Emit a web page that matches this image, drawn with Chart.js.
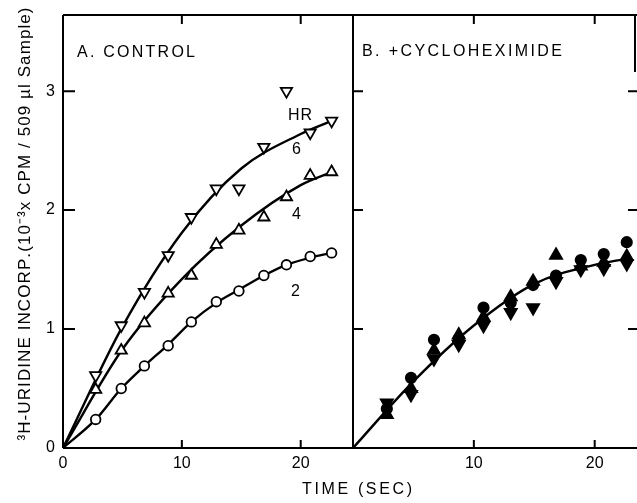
<!DOCTYPE html>
<html>
<head>
<meta charset="utf-8">
<script src="https://cdn.jsdelivr.net/npm/chart.js@4.4.0/dist/chart.umd.min.js"></script>
<style>
body { margin: 0; background: #fff; }
#wrap { position: relative; width: 637px; height: 503px; }
canvas { position: absolute; left: 0; top: 0; }
</style>
</head>
<body>
<div id="wrap">
<canvas id="chartA" width="637" height="503"></canvas>
<canvas id="chartB" width="637" height="503"></canvas>
</div>
<script>
// ---- data ----
// panel A (control): sample times in sec
var timesA = [2.75, 4.9, 6.85, 8.85, 10.8, 12.9, 14.8, 16.9, 18.8, 20.8, 22.6];
var control2hr = [0.24, 0.50, 0.69, 0.86, 1.06, 1.23, 1.32, 1.45, 1.54, 1.61, 1.64];
var control4hr = [0.49, 0.82, 1.05, 1.30, 1.45, 1.71, 1.83, 1.94, 2.11, 2.29, 2.32];
var control6hr = [0.61, 1.03, 1.31, 1.62, 1.94, 2.18, 2.18, 2.53, 3.00, 2.65, 2.75];

// hand drawn curves of panel A
var curveXA = [0, 2.75, 4.9, 6.85, 8.85, 10.8, 12.9, 14.8, 16.9, 18.8, 20.8, 22.6];
var curve2hr = [0, 0.24, 0.50, 0.69, 0.87, 1.06, 1.22, 1.33, 1.45, 1.54, 1.60, 1.64];
var curveXA2 = [0, 5, 10, 15, 20, 22.6];
var curve4hr = [0, 0.83, 1.42, 1.87, 2.21, 2.32];
var curve6hr = [0, 1.02, 1.81, 2.35, 2.64, 2.75];

// panel B (+cycloheximide)
var timesB = [2.8, 4.8, 6.7, 8.75, 10.8, 13.05, 14.9, 16.8, 18.85, 20.75, 22.65];
var cyclo2hr = [0.33, 0.59, 0.91, 0.92, 1.18, 1.22, 1.37, 1.45, 1.58, 1.63, 1.73];
var cyclo4hr = [0.28, 0.50, 0.82, 0.95, 1.10, 1.27, 1.40, 1.62, 1.53, 1.56, 1.61];
var cyclo6hr = [0.38, 0.45, 0.75, 0.87, 1.03, 1.14, 1.18, 1.40, 1.50, 1.51, 1.55];
var curveXB = [0, 5, 10, 15, 20, 22.65];
var curveB = [0, 0.56, 1.03, 1.38, 1.54, 1.59];

var xTicks = [0, 10, 20];
var yTicks = [0, 1, 2, 3];

var FONT = '"Liberation Sans", Arial, sans-serif';

function pts(xs, ys) {
    return xs.map(function (x, i) { return {x: x, y: ys[i]}; });
}

function markers(data, style, rot, radius, fill) {
    return {
        data: data, showLine: false, pointStyle: style, pointRotation: rot,
        pointRadius: radius, pointBackgroundColor: fill, pointBorderColor: '#000',
        pointBorderWidth: 1.8
    };
}

function curve(data) {
    return {
        data: data, showLine: true, pointRadius: 0, borderColor: '#000',
        borderWidth: 2.4, cubicInterpolationMode: 'monotone', fill: false
    };
}

// text with even letter spacing so it spans a given width
function spacedText(ctx, text, x, y, width, size) {
    ctx.font = size + 'px ' + FONT;
    ctx.textBaseline = 'middle';
    ctx.textAlign = 'left';
    var chars = Array.from(text);
    var w = chars.map(function (c) { return ctx.measureText(c).width; });
    var total = w.reduce(function (a, b) { return a + b; }, 0);
    var gap = chars.length > 1 ? (width - total) / (chars.length - 1) : 0;
    var cx = x;
    for (var i = 0; i < chars.length; i++) {
        ctx.fillText(chars[i], cx, y);
        cx += w[i] + gap;
    }
}

// frame and inward tick marks, drawn from the chart's own scales
var framePlugin = {
    id: 'frame',
    afterDatasetsDraw: function (chart, args, opts) {
        var ctx = chart.ctx, a = chart.chartArea;
        var xs = chart.scales.x, ys = chart.scales.y;
        ctx.save();
        ctx.strokeStyle = '#000';
        ctx.lineWidth = 2;
        ctx.beginPath();
        ctx.moveTo(a.left, a.top); ctx.lineTo(a.right, a.top);
        ctx.moveTo(a.left, a.bottom); ctx.lineTo(a.right, a.bottom);
        if (opts.leftLine) { ctx.moveTo(a.left, a.top); ctx.lineTo(a.left, a.bottom); }
        if (opts.rightLine) { ctx.moveTo(a.right, a.top); ctx.lineTo(a.right, a.bottom); }
        if (opts.rightStub) { ctx.moveTo(a.right - 2, a.top); ctx.lineTo(a.right - 2, a.top + opts.rightStub); }
        yTicks.forEach(function (v) {
            if (v === 0) return;
            var py = ys.getPixelForValue(v);
            ctx.moveTo(a.left, py); ctx.lineTo(a.left + opts.leftTick, py);
            if (opts.rightTick) { ctx.moveTo(a.right, py); ctx.lineTo(a.right - opts.rightTick, py); }
        });
        xTicks.forEach(function (v) {
            if (v === 0) return;
            var px = xs.getPixelForValue(v);
            ctx.moveTo(px, a.bottom); ctx.lineTo(px, a.bottom - 8);
            ctx.moveTo(px, a.top); ctx.lineTo(px, a.top + 9);
        });
        ctx.stroke();
        ctx.fillStyle = '#000';
        (opts.texts || []).forEach(function (t) {
            ctx.save();
            if (t.rot) {
                ctx.translate(t.x, t.y);
                ctx.rotate(-Math.PI / 2);
                spacedText(ctx, t.text, -t.w / 2, 0, t.w, t.size);
            } else {
                spacedText(ctx, t.text, t.x, t.y, t.w, t.size);
            }
            ctx.restore();
        });
        ctx.restore();
    }
};

function axisOpts(min, max, step, fit, extra) {
    var o = {
        type: 'linear', min: min, max: max,
        grid: {display: false, drawTicks: false},
        border: {display: false},
        ticks: {stepSize: step, includeBounds: false, color: '#000', font: {family: FONT, size: 16}, maxRotation: 0},
        afterFit: function (s) {
            fit(s);
            s.paddingLeft = 0; s.paddingRight = 0; s.paddingTop = 0; s.paddingBottom = 0;
        }
    };
    for (var k in extra) o.ticks[k] = extra[k];
    return o;
}

var chartA = new Chart(document.getElementById('chartA'), {
    type: 'scatter',
    data: {
        datasets: [
            markers(pts(timesA, control6hr), 'triangle', 180, 6.5, '#fff'),
            markers(pts(timesA, control4hr), 'triangle', 0, 6.5, '#fff'),
            markers(pts(timesA, control2hr), 'circle', 0, 4.8, '#fff'),
            curve(pts(curveXA2, curve6hr)),
            curve(pts(curveXA2, curve4hr)),
            curve(pts(curveXA, curve2hr))
        ]
    },
    options: {
        responsive: false, animation: false, events: [],
        layout: {autoPadding: false, padding: {left: 0, right: 284, top: 15, bottom: 0}},
        plugins: {
            legend: {display: false}, tooltip: {enabled: false},
            frame: {
                leftLine: true, rightLine: true, leftTick: 12,
                texts: [
                    {text: '\u00B3H-URIDINE INCORP.(10\u207B\u00B3x CPM / 509 \u00B5l Sample)', x: 25, y: 224, w: 433, size: 17, rot: true},
                    {text: 'A. CONTROL', x: 77, y: 53, w: 118, size: 16},
                    {text: 'HR', x: 288, y: 116, w: 24, size: 16},
                    {text: '6', x: 292, y: 150, w: 10, size: 16},
                    {text: '4', x: 292, y: 215, w: 10, size: 16},
                    {text: '2', x: 291, y: 292, w: 10, size: 16},
                    {text: 'TIME (SEC)', x: 302, y: 490, w: 110, size: 16}
                ]
            }
        },
        scales: {
            x: axisOpts(0, 24.4, 10, function (s) { s.height = 55; }, {padding: 6}),
            y: axisOpts(0, 3.64, 1, function (s) { s.width = 63; }, {padding: 8})
        }
    },
    plugins: [framePlugin]
});

var chartB = new Chart(document.getElementById('chartB'), {
    type: 'scatter',
    data: {
        datasets: [
            markers(pts(timesB, cyclo2hr), 'circle', 0, 5.2, '#000'),
            markers(pts(timesB, cyclo4hr), 'triangle', 0, 7, '#000'),
            markers(pts(timesB, cyclo6hr), 'triangle', 180, 7, '#000'),
            curve(pts(curveXB, curveB))
        ]
    },
    options: {
        responsive: false, animation: false, events: [],
        layout: {autoPadding: false, padding: {left: 353, right: 0, top: 15, bottom: 0}},
        plugins: {
            legend: {display: false}, tooltip: {enabled: false},
            frame: {
                leftTick: 10, rightTick: 9, rightStub: 57,
                texts: [
                    {text: 'B. +CYCLOHEXIMIDE', x: 362, y: 52, w: 200, size: 16}
                ]
            }
        },
        scales: {
            x: axisOpts(0, 23.5, 10, function (s) { s.height = 55; },
                {padding: 6, callback: function (v) { return v === 0 ? '' : v; }}),
            y: {type: 'linear', min: 0, max: 3.64, display: false}
        }
    },
    plugins: [framePlugin]
});
</script>
</body>
</html>
